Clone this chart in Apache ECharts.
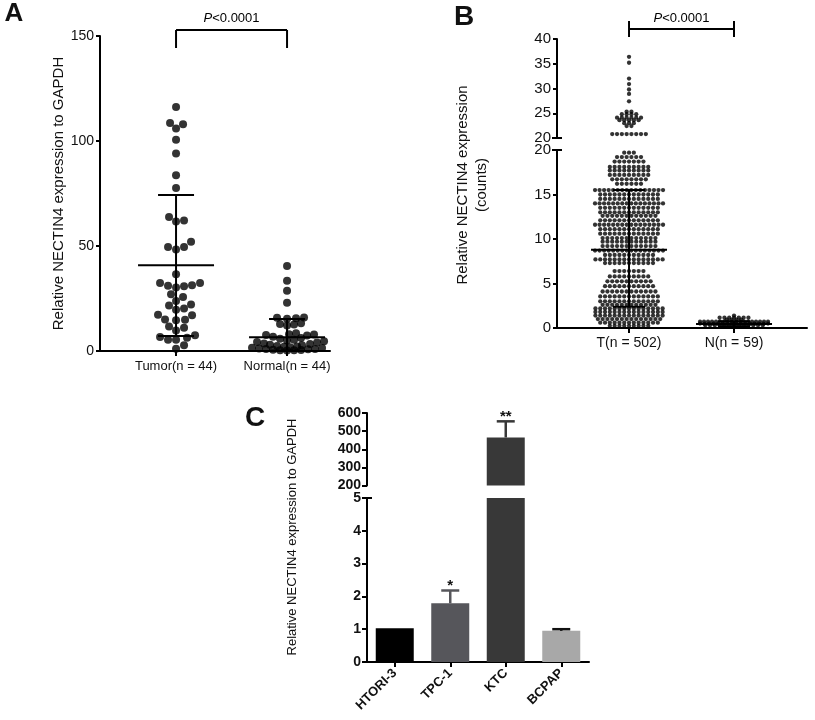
<!DOCTYPE html>
<html>
<head>
<meta charset="utf-8">
<script src="https://cdn.jsdelivr.net/npm/echarts@6/dist/echarts.min.js"></script>
<style>
  html, body { margin: 0; padding: 0; background: #fff; }
  #chart { width: 815px; height: 720px; }
</style>
</head>
<body>
<div id="chart"></div>
<script>
// ---- panel A: qPCR, tumor vs normal ----
const catsA = ['Tumor(n = 44)', 'Normal(n = 44)'];
const tumorA = [116.2, 108.0, 108.6, 106.0, 100.6, 94.0, 83.7, 77.6, 63.8, 61.7, 62.2,
  52.0, 49.5, 48.3, 49.5, 36.5, 32.4, 31.3, 30.2, 30.8, 31.1, 32.4, 25.7, 27.0, 23.8,
  21.7, 19.7, 17.3, 20.2, 22.2, 15.0, 14.6, 14.9, 17.0, 9.8, 11.1, 11.7, 6.7, 5.4, 7.5,
  5.4, 6.3, 1.1, 2.7];
const normalA = [40.5, 33.5, 28.7, 23.0, 15.8, 15.4, 15.6, 16.0, 13.2, 12.6, 12.9, 12.2,
  8.5, 7.8, 7.4, 8.0, 7.6, 6.8, 6.2, 5.8, 5.4, 5.0, 4.6, 4.3, 4.0, 3.6, 3.3, 3.0, 2.7,
  2.4, 2.2, 2.0, 1.8, 1.6, 1.4, 1.2, 1.0, 0.9, 0.8, 0.6, 0.5, 0.4, 0.3, 0.2];
const meanA = [40.8, 6.5];
const sdLowA = [7.1, 0.2];
const sdHighA = [74.3, 15.2];

// ---- panel B: TCGA counts, rows of the dot plot as [value, number of dots] ----
const catsB = ['T(n = 502)', 'N(n = 59)'];
const tRowsB = [
  [36.4, 1], [35.2, 1], [32.0, 1], [30.9, 1], [29.8, 1], [28.9, 1], [27.4, 1],
  [25.3, 2], [24.8, 4], [24.1, 6], [23.6, 5], [23.0, 3], [22.4, 2], [20.8, 8],
  [19.7, 3], [19.2, 6], [18.7, 7], [18.1, 9], [17.7, 9], [17.2, 9], [16.7, 8], [16.2, 6],
  [15.5, 16], [15.0, 13], [14.5, 13], [14.0, 16], [13.5, 13], [13.0, 13], [12.6, 12],
  [12.1, 13], [11.6, 16], [11.1, 13], [10.6, 13], [10.1, 12], [9.7, 12], [9.2, 12],
  [8.7, 16], [8.2, 11], [7.7, 15], [7.3, 11],
  [6.4, 7], [5.8, 9], [5.25, 10], [4.7, 11], [4.1, 12], [3.55, 13], [3.0, 13], [2.6, 12],
  [2.2, 15], [1.8, 15], [1.4, 15], [1.0, 14], [0.6, 13], [0.25, 9]
];
const nRowsB = [[1.4, 1], [1.15, 7], [0.95, 4], [0.7, 18], [0.5, 16], [0.3, 13]];
const meanB = [8.8, 0.45];
const sdLowB = [2.4, 0.2];
const sdHighB = [15.5, 0.75];

// ---- panel C: cell lines ----
const catsC = ['HTORI-3', 'TPC-1', 'KTC', 'BCPAP'];
const valC = [1.03, 1.79, 465, 0.95];
const errC = [0, 0.39, 89, 0.05];
const sigC = ['', '*', '**', ''];

const palC = ['#000000', '#56565b', '#383838', '#a8a8a8'];
const FONT = 'Liberation Sans, Arial, sans-serif';

// layout of the grids
const gA = { left: 100, top: 36, width: 230, height: 315 };
const gBu = { left: 557, top: 39, width: 250, height: 99 };
const gBl = { left: 557, top: 150, width: 250, height: 178 };
const gCu = { left: 367, top: 413, width: 222, height: 72.5 };
const gCl = { left: 367, top: 498, width: 222, height: 164 };
const xRangeA = [-0.685, 1.387];
const xRangeB = [-0.686, 1.695];

// simple beeswarm: horizontal pixel offsets so dots don't overlap
function swarm(values, pxY, d, maxHalf) {
  const order = values.map((v, i) => i).sort((a, b) => values[a] - values[b]);
  const placed = [];
  const out = [];
  order.forEach(i => {
    const y = values[i] * pxY;
    let dd = d, x = null;
    while (x === null) {
      for (let k = 0; k <= 2 * maxHalf; k++) {
        const c = (k % 2 ? 1 : -1) * Math.ceil(k / 2);
        if (placed.every(p => (p.x - c) ** 2 + (p.y - y) ** 2 >= dd * dd)) { x = c; break; }
      }
      dd *= 0.85;
    }
    placed.push({ x: x, y: y });
    out[i] = x;
  });
  return out;
}

// rows of dots centred on the category
function rowDots(rows, maxW, step) {
  const pts = [];
  rows.forEach(([v, n]) => {
    const s = n > 1 ? Math.min(step, maxW / (n - 1)) : 0;
    for (let j = 0; j < n; j++) pts.push([(j - (n - 1) / 2) * s, v]);
  });
  return pts;
}

const uA = (xRangeA[1] - xRangeA[0]) / gA.width;
const pyA = gA.height / 150;
function groupA(vals, g, d) {
  const off = swarm(vals, pyA, d, 38);
  return vals.map((v, i) => [g + off[i] * uA, v]);
}

const uB = (xRangeB[1] - xRangeB[0]) / gBl.width;
const dotsT = rowDots(tRowsB, 68, 4.8).map(([dx, v]) => [0 + dx * uB, v]);
const dotsN = rowDots(nRowsB, 68, 4.8).map(([dx, v]) => [1 + dx * uB, v]);

function meanSd(half, cap) {
  return function (params, api) {
    const x = api.value(0);
    const m = api.coord([x, api.value(1)]);
    const lo = api.coord([x, api.value(2)]);
    const hi = api.coord([x, api.value(3)]);
    const ln = (x1, y1, x2, y2) => ({ type: 'line', shape: { x1, y1, x2, y2 },
      style: { stroke: '#000', lineWidth: 2 } });
    return { type: 'group', children: [
      ln(m[0] - half, m[1], m[0] + half, m[1]),
      ln(m[0], lo[1], m[0], hi[1]),
      ln(m[0] - cap, lo[1], m[0] + cap, lo[1]),
      ln(m[0] - cap, hi[1], m[0] + cap, hi[1])
    ]};
  };
}

function bracket(yTop, barDy, tickUp, tickDown, textDy) {
  return function (params, api) {
    const p0 = api.coord([0, yTop]);
    const p1 = api.coord([1, yTop]);
    const y = p0[1] + barDy;
    const st = () => ({ stroke: '#000', lineWidth: 2, fill: null });
    return { type: 'group', children: [
      { type: 'line', shape: { x1: p0[0], y1: y, x2: p1[0], y2: y }, style: st() },
      { type: 'line', shape: { x1: p0[0], y1: y - tickUp, x2: p0[0], y2: y + tickDown }, style: st() },
      { type: 'line', shape: { x1: p1[0], y1: y - tickUp, x2: p1[0], y2: y + tickDown }, style: st() },
      { type: 'text', x: (p0[0] + p1[0]) / 2, y: p0[1] + textDy, style: {
        text: '{i|P}{n|<0.0001}', align: 'center', verticalAlign: 'middle', fill: '#000',
        rich: {
          i: { fontStyle: 'italic', fontSize: 13, fontFamily: FONT, fill: '#000' },
          n: { fontSize: 13, fontFamily: FONT, fill: '#000' }
        } } }
    ]};
  };
}

function errBars(params, api) {
  const i = api.value(0);
  const base = api.coord([i, api.value(1)]);
  const top = api.coord([i, api.value(2)]);
  const col = i === 3 ? '#111' : palC[i];
  const children = [
    { type: 'line', shape: { x1: base[0], y1: base[1], x2: top[0], y2: top[1] }, style: { stroke: col, lineWidth: 2.5 } },
    { type: 'line', shape: { x1: top[0] - 9, y1: top[1], x2: top[0] + 9, y2: top[1] }, style: { stroke: col, lineWidth: 2.5 } }
  ];
  if (sigC[i]) {
    children.push({ type: 'text', x: top[0], y: top[1] - 4.5, style: {
      text: sigC[i], align: 'center', verticalAlign: 'middle', fill: '#111',
      font: 'bold 15px ' + FONT } });
  }
  return { type: 'group', children: children };
}

const axLine = (extra) => Object.assign({ show: true, lineStyle: { color: '#000', width: 2 } }, extra || {});
const tick = (len) => ({ show: true, length: len, lineStyle: { color: '#000', width: 2 } });
const lbl = (size, extra) => Object.assign({ color: '#111', fontFamily: FONT, fontSize: size, margin: 5 }, extra || {});

const chart = echarts.init(document.getElementById('chart'));

chart.setOption({
  animation: false,
  backgroundColor: '#fff',
  grid: [gA, gBu, gBl, gCu, gCl],
  xAxis: [
    { gridIndex: 0, type: 'value', min: xRangeA[0], max: xRangeA[1], splitLine: { show: false },
      axisLine: axLine(), axisTick: Object.assign(tick(5), { customValues: [0, 1] }),
      axisLabel: lbl(13, { margin: 9, customValues: [0, 1], formatter: v => catsA[Math.round(v)] }) },
    { gridIndex: 1, type: 'value', min: xRangeB[0], max: xRangeB[1], show: false },
    { gridIndex: 2, type: 'value', min: xRangeB[0], max: xRangeB[1], splitLine: { show: false },
      axisLine: axLine(), axisTick: Object.assign(tick(5), { customValues: [0, 1] }),
      axisLabel: lbl(14, { margin: 8, customValues: [0, 1], formatter: v => catsB[Math.round(v)] }) },
    { gridIndex: 3, type: 'category', data: catsC, show: false },
    { gridIndex: 4, type: 'category', data: catsC,
      axisLine: axLine(), axisTick: Object.assign(tick(5), { alignWithLabel: true }),
      axisLabel: lbl(13, { fontWeight: 'bold', rotate: 45, interval: 0, margin: 9 }) }
  ],
  yAxis: [
    { gridIndex: 0, type: 'value', min: 0, max: 150, interval: 50, splitLine: { show: false },
      axisLine: axLine({ onZero: false }), axisTick: tick(4), axisLabel: lbl(14, { margin: 6 }),
      name: 'Relative NECTIN4 expression to GAPDH', nameLocation: 'middle', nameGap: 32,
      nameTextStyle: { fontFamily: FONT, fontSize: 15, color: '#111' } },
    { gridIndex: 1, type: 'value', min: 20, max: 40, interval: 5, splitLine: { show: false },
      axisLine: axLine({ onZero: false, symbol: ['rect', 'none'], symbolSize: [10, 2] }),
      axisTick: tick(4), axisLabel: lbl(15, { margin: 6 }) },
    { gridIndex: 2, type: 'value', min: 0, max: 20, interval: 5, splitLine: { show: false },
      axisLine: axLine({ onZero: false, symbol: ['none', 'rect'], symbolSize: [10, 2] }),
      axisTick: tick(4), axisLabel: lbl(15, { margin: 6 }) },
    { gridIndex: 3, type: 'value', min: 200, max: 600, interval: 100, splitLine: { show: false },
      axisLine: axLine(), axisTick: tick(5), axisLabel: lbl(14, { fontWeight: 'bold', margin: 6 }) },
    { gridIndex: 4, type: 'value', min: 0, max: 5, interval: 1, splitLine: { show: false },
      axisLine: axLine({ symbol: ['none', 'rect'], symbolSize: [10, 2] }),
      axisTick: tick(5), axisLabel: lbl(14, { fontWeight: 'bold', margin: 6 }) }
  ],
  series: [
    { type: 'scatter', xAxisIndex: 0, yAxisIndex: 0, symbolSize: 8, itemStyle: { color: '#000' },
      data: groupA(tumorA, 0, 8) },
    { type: 'scatter', xAxisIndex: 0, yAxisIndex: 0, symbolSize: 8, itemStyle: { color: '#000' },
      data: groupA(normalA, 1, 6.5) },
    { type: 'custom', xAxisIndex: 0, yAxisIndex: 0, z: 5, renderItem: meanSd(38, 18),
      encode: { x: 0, y: 1 },
      data: catsA.map((c, i) => [i, meanA[i], sdLowA[i], sdHighA[i]]) },
    { type: 'custom', xAxisIndex: 0, yAxisIndex: 0, z: 5, renderItem: bracket(150, -6, 0, 18, -18),
      encode: { x: 0, y: 1 }, data: [[0, 150]] },

    { type: 'scatter', xAxisIndex: 1, yAxisIndex: 1, symbolSize: 4.3, itemStyle: { color: '#000' },
      data: dotsT.filter(p => p[1] > 20) },
    { type: 'scatter', xAxisIndex: 2, yAxisIndex: 2, symbolSize: 4.3, itemStyle: { color: '#000' },
      data: dotsT.filter(p => p[1] <= 20).concat(dotsN) },
    { type: 'custom', xAxisIndex: 2, yAxisIndex: 2, z: 5, renderItem: meanSd(38, 16),
      encode: { x: 0, y: 1 },
      data: catsB.map((c, i) => [i, meanB[i], sdLowB[i], sdHighB[i]]) },
    { type: 'custom', xAxisIndex: 1, yAxisIndex: 1, z: 5, renderItem: bracket(40, -10, 8, 8, -21),
      encode: { x: 0, y: 1 }, data: [[0, 40]] },

    { type: 'bar', xAxisIndex: 3, yAxisIndex: 3, barWidth: 38,
      data: valC.map((v, i) => v > 200 ? { value: v, itemStyle: { color: palC[i] } } : '-') },
    { type: 'bar', xAxisIndex: 4, yAxisIndex: 4, barWidth: 38,
      data: valC.map((v, i) => ({ value: v, itemStyle: { color: palC[i] } })) },
    { type: 'custom', xAxisIndex: 3, yAxisIndex: 3, z: 5, renderItem: errBars, encode: { x: 0, y: 1 },
      data: valC.map((v, i) => [i, v, v + errC[i]]).filter(d => d[1] > 200 && errC[d[0]] > 0) },
    { type: 'custom', xAxisIndex: 4, yAxisIndex: 4, z: 5, renderItem: errBars, encode: { x: 0, y: 1 },
      data: valC.map((v, i) => [i, v, v + errC[i]]).filter(d => d[1] < 5 && errC[d[0]] > 0) }
  ],
  graphic: { elements: [
    { type: 'text', x: 14, y: 14, style: { text: 'A', font: 'bold 26px ' + FONT, fill: '#111', align: 'center', verticalAlign: 'middle' } },
    { type: 'text', x: 464, y: 17, style: { text: 'B', font: 'bold 28px ' + FONT, fill: '#111', align: 'center', verticalAlign: 'middle' } },
    { type: 'text', x: 255, y: 418, style: { text: 'C', font: 'bold 28px ' + FONT, fill: '#111', align: 'center', verticalAlign: 'middle' } },
    { type: 'text', x: 472, y: 185, rotation: Math.PI / 2, style: {
      text: 'Relative NECTIN4 expression\n(counts)', font: '15px ' + FONT, lineHeight: 19,
      fill: '#111', align: 'center', verticalAlign: 'middle' } },
    { type: 'text', x: 292, y: 537, rotation: Math.PI / 2, style: {
      text: 'Relative NECTIN4 expression to GAPDH', font: '13px ' + FONT,
      fill: '#111', align: 'center', verticalAlign: 'middle' } }
  ] }
});
</script>
</body>
</html>
